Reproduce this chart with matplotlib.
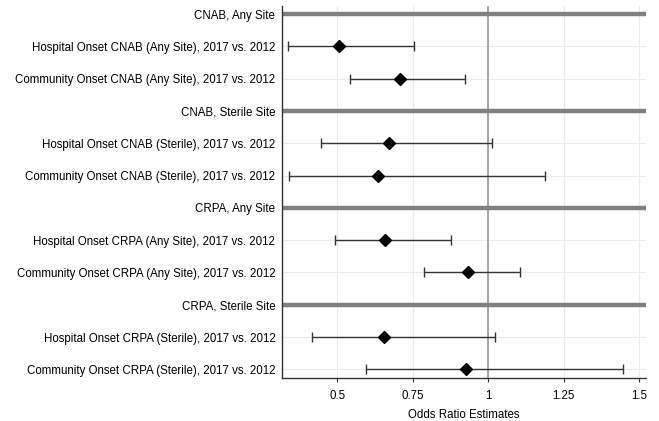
import matplotlib
matplotlib.use("Agg")
import matplotlib.pyplot as plt
import numpy as np

plt.rcParams['font.family'] = ['Liberation Sans', 'DejaVu Sans']

labels = [
    "CNAB, Any Site",
    "Hospital Onset CNAB (Any Site), 2017 vs. 2012",
    "Community Onset CNAB (Any Site), 2017 vs. 2012",
    "CNAB, Sterile Site",
    "Hospital Onset CNAB (Sterile), 2017 vs. 2012",
    "Community Onset CNAB (Sterile), 2017 vs. 2012",
    "CRPA, Any Site",
    "Hospital Onset CRPA (Any Site), 2017 vs. 2012",
    "Community Onset CRPA (Any Site), 2017 vs. 2012",
    "CRPA, Sterile Site",
    "Hospital Onset CRPA (Sterile), 2017 vs. 2012",
    "Community Onset CRPA (Sterile), 2017 vs. 2012",
]
is_header = [True, False, False, True, False, False, True, False, False, True, False, False]
estimate = [None, 0.505, 0.707, None, 0.671, 0.636, None, 0.658, 0.932, None, 0.654, 0.926]
lower    = [None, 0.338, 0.541, None, 0.447, 0.341, None, 0.493, 0.786, None, 0.417, 0.594]
upper    = [None, 0.753, 0.923, None, 1.011, 1.189, None, 0.876, 1.107, None, 1.021, 1.446]

xticks = [0.5, 0.75, 1.0, 1.25, 1.5]
xticklabels = ["0.5", "0.75", "1", "1.25", "1.5"]

fig = plt.figure(figsize=(6.59, 4.21), dpi=100)
ax = fig.add_axes([282/659, (421-377.7)/421, (646-282)/659, (377.7-6)/421])

n = len(labels)
ypos = np.arange(n)

ax.set_xlim(0.3166, 1.523)
ax.set_ylim(n - 1 + 0.26, -0.25)

for x in xticks:
    ax.axvline(x, color='#ebebeb', lw=0.8, zorder=0)
for i in range(n):
    if not is_header[i]:
        ax.axhline(i, color='#ebebeb', lw=0.8, zorder=0)

ax.axvline(1.0, color='#a0a0a0', lw=1.3, zorder=1)

for i in range(n):
    if is_header[i]:
        ax.axhline(i, color='#808080', lw=3.2, zorder=2)
    else:
        ax.errorbar(estimate[i], i, xerr=[[estimate[i]-lower[i]], [upper[i]-estimate[i]]],
                    fmt='D', color='black', ms=6, ecolor='#333333', elinewidth=1.0,
                    capsize=3.3, capthick=1.0, zorder=3)

fs = 8.3
ax.set_yticks(ypos)
ax.set_yticklabels(labels, fontsize=fs)
ax.set_xticks(xticks)
ax.set_xticklabels(xticklabels, fontsize=fs)
ax.tick_params(axis='y', length=0, pad=4.8)
ax.tick_params(axis='x', length=3, color='#333333', pad=5.5)
ax.set_xlabel("Odds Ratio Estimates", fontsize=fs, labelpad=5.3)

for s in ['top', 'right']:
    ax.spines[s].set_visible(False)
for s in ['left', 'bottom']:
    ax.spines[s].set_color('#333333')
    ax.spines[s].set_linewidth(1.0)

fig.savefig("out.png", dpi=100)
